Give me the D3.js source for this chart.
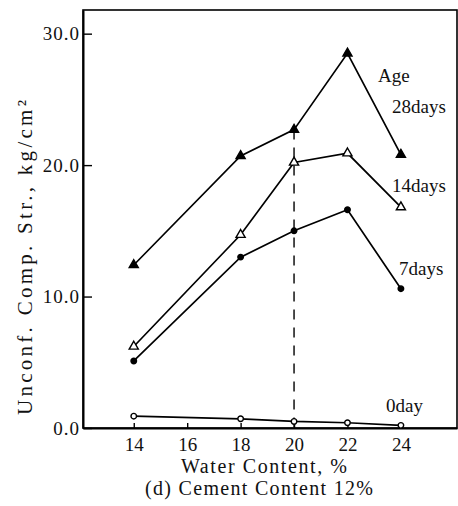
<!DOCTYPE html>
<html>
<head>
<meta charset="utf-8">
<script src="https://cdn.jsdelivr.net/npm/d3@7.9.0/dist/d3.min.js"></script>
<style>
  body { margin: 0; background: #fff; }
  svg { display: block; font-family: "Liberation Serif", "DejaVu Serif", serif; }
</style>
</head>
<body>
<div id="chart"></div>
<script>
// water content, %
const water = [14, 18, 20, 22, 24];
// unconfined compressive strength, kg/cm2
const str28 = [12.4, 20.7, 22.7, 28.5, 20.8];
const str14 = [6.2, 14.7, 20.2, 20.9, 16.8];
const str7 = [5.1, 13.0, 15.0, 16.6, 10.6];
const str0 = [0.9, 0.7, 0.5, 0.4, 0.2];
const yTicks = [0, 10, 20, 30];
const xTicks = [14, 16, 18, 20, 22, 24];
const peakWater = 20;

const series = [
  { name: '28days', values: str28, symbol: d3.symbolTriangle, fill: '#000', lx: 392, ly: 113 },
  { name: '14days', values: str14, symbol: d3.symbolTriangle, fill: '#fff', lx: 392, ly: 192 },
  { name: '7days', values: str7, symbol: d3.symbolCircle, fill: '#000', lx: 399, ly: 275 },
  { name: '0day', values: str0, symbol: d3.symbolCircle, fill: '#fff', lx: 386, ly: 412 }
];

const width = 458, height = 506;
const margin = { left: 83, top: 10, right: 1, bottom: 78 };

const svg = d3.select('#chart').append('svg')
  .attr('width', width)
  .attr('height', height);

const x = d3.scaleLinear().domain([12.1, 26.1]).range([margin.left, width - margin.right]);
const y = d3.scaleLinear().domain([0, 31.8]).range([height - margin.bottom, margin.top]);

// frame
svg.append('rect')
  .attr('x', margin.left).attr('y', margin.top)
  .attr('width', width - margin.right - margin.left)
  .attr('height', height - margin.bottom - margin.top)
  .attr('fill', 'none').attr('stroke', '#000').attr('stroke-width', 1.6);

// axes
const yAxis = svg.append('g')
  .attr('transform', `translate(${margin.left},0)`)
  .call(d3.axisLeft(y).tickValues(yTicks).tickFormat(d3.format('.1f'))
    .tickSizeInner(-9).tickSizeOuter(0).tickPadding(3));
yAxis.select('.domain').attr('stroke-width', 2);
yAxis.selectAll('text').attr('font-size', 19).attr('font-family', 'Liberation Serif')
  .attr('letter-spacing', 1).attr('fill', '#111');
yAxis.selectAll('line').attr('stroke-width', 1.4);

const xAxis = svg.append('g')
  .attr('transform', `translate(0,${height - margin.bottom})`)
  .call(d3.axisBottom(x).tickValues(xTicks).tickFormat(d3.format('d'))
    .tickSizeInner(-5).tickSizeOuter(0).tickPadding(10));
xAxis.select('.domain').attr('stroke-width', 2);
xAxis.selectAll('text').attr('font-size', 19).attr('font-family', 'Liberation Serif')
  .attr('fill', '#111');
xAxis.selectAll('line').attr('stroke-width', 1.4);

// dashed line at peak of 28 days curve
svg.append('line')
  .attr('x1', x(peakWater)).attr('x2', x(peakWater))
  .attr('y1', y(str28[water.indexOf(peakWater)])).attr('y2', y(0))
  .attr('stroke', '#000').attr('stroke-width', 1.4)
  .attr('stroke-dasharray', '10,8');

const line = d3.line().x((d, i) => x(water[i])).y(d => y(d));

series.forEach(s => {
  svg.append('path')
    .datum(s.values)
    .attr('d', line)
    .attr('fill', 'none')
    .attr('stroke', '#000')
    .attr('stroke-width', 1.7);

  svg.append('g').selectAll('path')
    .data(s.values)
    .join('path')
    .attr('transform', (d, i) => `translate(${x(water[i])},${y(d)})`)
    .attr('d', d3.symbol().type(s.symbol).size(s.symbol === d3.symbolCircle ? 24 : 36))
    .attr('fill', s.fill)
    .attr('stroke', '#000')
    .attr('stroke-width', 1.4);

  svg.append('text')
    .attr('x', s.lx).attr('y', s.ly)
    .attr('font-size', 19)
    .attr('fill', '#111')
    .text(s.name);
});

svg.append('text')
  .attr('x', 378).attr('y', 82)
  .attr('font-size', 19)
  .attr('fill', '#111')
  .text('Age');

// axis titles
svg.append('text')
  .attr('transform', 'translate(32,100) rotate(-90)')
  .attr('text-anchor', 'end')
  .attr('font-size', 21)
  .attr('textLength', 315)
  .attr('lengthAdjust', 'spacing')
  .attr('fill', '#111')
  .text('Unconf. Comp. Str., kg/cm²');

svg.append('text')
  .attr('x', 181).attr('y', 473)
  .attr('font-size', 20)
  .attr('textLength', 166)
  .attr('lengthAdjust', 'spacing')
  .attr('fill', '#111')
  .text('Water Content, %');

svg.append('text')
  .attr('x', 145).attr('y', 495)
  .attr('font-size', 20)
  .attr('textLength', 228)
  .attr('lengthAdjust', 'spacing')
  .attr('fill', '#111')
  .text('(d) Cement Content 12%');
</script>
</body>
</html>
